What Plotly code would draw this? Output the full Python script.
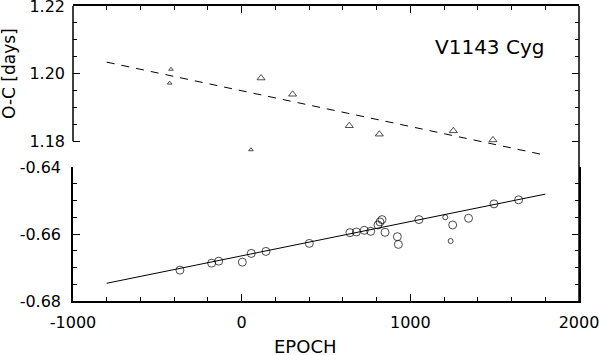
import plotly.graph_objects as go

# 上半部分: 三角形 (O-C 1.18 ~ 1.22)
tri_epoch = [-419, -427, 55, 115, 302, 638, 816, 1255, 1490]
tri_oc = [1.2013, 1.1972, 1.1775, 1.1987, 1.1939, 1.1846, 1.1821, 1.1831, 1.1804]
tri_size = [4, 4, 4, 7, 7, 7, 7, 7, 7]

# 下半部分: 圆圈 (O-C -0.68 ~ -0.64)
circ_epoch = [-366, -178, -136, 4, 57, 144, 401, 642, 680, 727, 765, 808, 820, 832,
              850, 923, 929, 1051, 1207, 1251, 1239, 1345, 1496, 1642]
circ_oc = [-0.6708, -0.6687, -0.6681, -0.6684, -0.6658, -0.6652, -0.6628, -0.6596,
           -0.6594, -0.6589, -0.6592, -0.6573, -0.6564, -0.6557, -0.6595, -0.6608,
           -0.6631, -0.6557, -0.6550, -0.6573, -0.6621, -0.6553, -0.6510, -0.6498]
circ_size = [8, 8, 8, 8, 8, 8, 8, 8, 8, 8, 8, 8, 8, 8,
             8, 8, 8, 8, 5, 8, 5, 8, 8, 8]

# 拟合线
fit_epoch = [-800, 1800]
fit_top = [1.2034, 1.1759]
fit_bottom = [-0.6747, -0.6481]

# 刻度
x_ticks = [-1000, 0, 1000, 2000]
x_ticktext = ["-1000", "0", "1000", "2000"]
x_minor = list(range(-1000, 2001, 200))
top_ticks = [1.18, 1.20, 1.22]
top_ticktext = ["1.18", "1.20", "1.22"]
top_minor = [1.18 + 0.005 * i for i in range(9)]
bottom_ticks = [-0.68, -0.66, -0.64]
bottom_ticktext = ["-0.68", "-0.66", "-0.64"]
bottom_minor = [-0.68 + 0.005 * i for i in range(9)]

FONT = "DejaVu Sans"
BOTTOM_TOP = 0.4542   # 下面板顶部 (paper)
TOP_BOTTOM = 0.5414   # 上面板 1.18 的位置 (paper)
gap_units = (TOP_BOTTOM - BOTTOM_TOP) * 0.04 / (1 - TOP_BOTTOM)

fig = go.Figure()

fig.add_trace(go.Scatter(
    x=fit_epoch, y=fit_top, mode="lines", xaxis="x2", yaxis="y2",
    line=dict(color="black", width=1, dash="8px,7px"),
))
fig.add_trace(go.Scatter(
    x=tri_epoch, y=tri_oc, mode="markers", xaxis="x2", yaxis="y2",
    marker=dict(symbol="triangle-up-open", size=tri_size, color="black",
                line=dict(width=1, color="black")),
    cliponaxis=False,
))
fig.add_trace(go.Scatter(
    x=fit_epoch, y=fit_bottom, mode="lines",
    line=dict(color="black", width=1),
))
fig.add_trace(go.Scatter(
    x=circ_epoch, y=circ_oc, mode="markers",
    marker=dict(symbol="circle-open", size=circ_size, color="black",
                line=dict(width=1, color="black")),
    cliponaxis=False,
))

xaxis_common = dict(
    range=[-1000, 2000],
    tickmode="array", tickvals=x_ticks, ticktext=x_ticktext,
    ticks="inside", ticklen=7, tickwidth=1, tickcolor="black",
    minor=dict(tickmode="array", tickvals=x_minor, ticks="inside",
               ticklen=4, tickcolor="black"),
    showline=True, linecolor="black", linewidth=1.5,
    showgrid=False, zeroline=False, automargin=False,
    ticklabeloverflow="allow",
)
yaxis_common = dict(
    ticks="inside", ticklen=7, tickcolor="black", mirror="ticks",
    showgrid=False, zeroline=False, automargin=False,
    ticklabelstandoff=7, tickfont=dict(family=FONT, size=16),
    ticklabeloverflow="allow",
)

fig.update_layout(
    width=599,
    height=355,
    margin=dict(l=73, r=20, t=6, b=54),
    plot_bgcolor="white",
    paper_bgcolor="white",
    showlegend=False,
    font=dict(family=FONT, size=16, color="black"),
    xaxis=dict(
        **xaxis_common, anchor="y",
        showticklabels=True, ticklabelstandoff=6,
        tickfont=dict(family=FONT, size=16),
    ),
    xaxis2=dict(
        **xaxis_common, anchor="y2", side="top", matches="x",
        showticklabels=False,
    ),
    yaxis=dict(
        **yaxis_common,
        domain=[0, BOTTOM_TOP], range=[-0.68, -0.64],
        tickmode="array", tickvals=bottom_ticks, ticktext=bottom_ticktext,
        minor=dict(tickmode="array", tickvals=bottom_minor, ticks="inside",
                   ticklen=4, tickcolor="black"),
        showline=True, linecolor="black", linewidth=1.5,
    ),
    yaxis2=dict(
        **yaxis_common,
        domain=[BOTTOM_TOP, 1], range=[1.18 - gap_units, 1.22],
        tickmode="array", tickvals=top_ticks, ticktext=top_ticktext,
        minor=dict(tickmode="array", tickvals=top_minor, ticks="inside",
                   ticklen=4, tickcolor="black"),
        showline=False,
    ),
    shapes=[
        # 上面板左轴线 (只到 1.18)
        dict(type="line", xref="paper", yref="y2", x0=0, x1=0, y0=1.18, y1=1.22,
             line=dict(color="black", width=1.5)),
        # 右侧边框 (贯通两个面板)
        dict(type="line", xref="paper", yref="paper", x0=1, x1=1, y0=0, y1=1,
             line=dict(color="black", width=1.5)),
    ],
    annotations=[
        dict(text="V1143 Cyg", xref="paper", yref="paper", x=0.8235, y=0.861,
             xanchor="center", yanchor="middle",
             showarrow=False, font=dict(family=FONT, size=20)),
        dict(text="O-C [days]", xref="paper", yref="paper", x=-0.1265, y=0.773,
             xanchor="center", yanchor="middle",
             textangle=-90, showarrow=False, font=dict(family=FONT, size=17)),
        dict(text="EPOCH", xref="paper", yref="paper", x=0.4585, y=-0.1545,
             xanchor="center", yanchor="middle",
             showarrow=False, font=dict(family=FONT, size=18)),
    ],
)

# 去掉页面 body 默认边距, 让图表贴齐窗口左上角
fig.write_html("out.html", config={"displayModeBar": False},
               post_script="document.body.style.margin = '0';")
